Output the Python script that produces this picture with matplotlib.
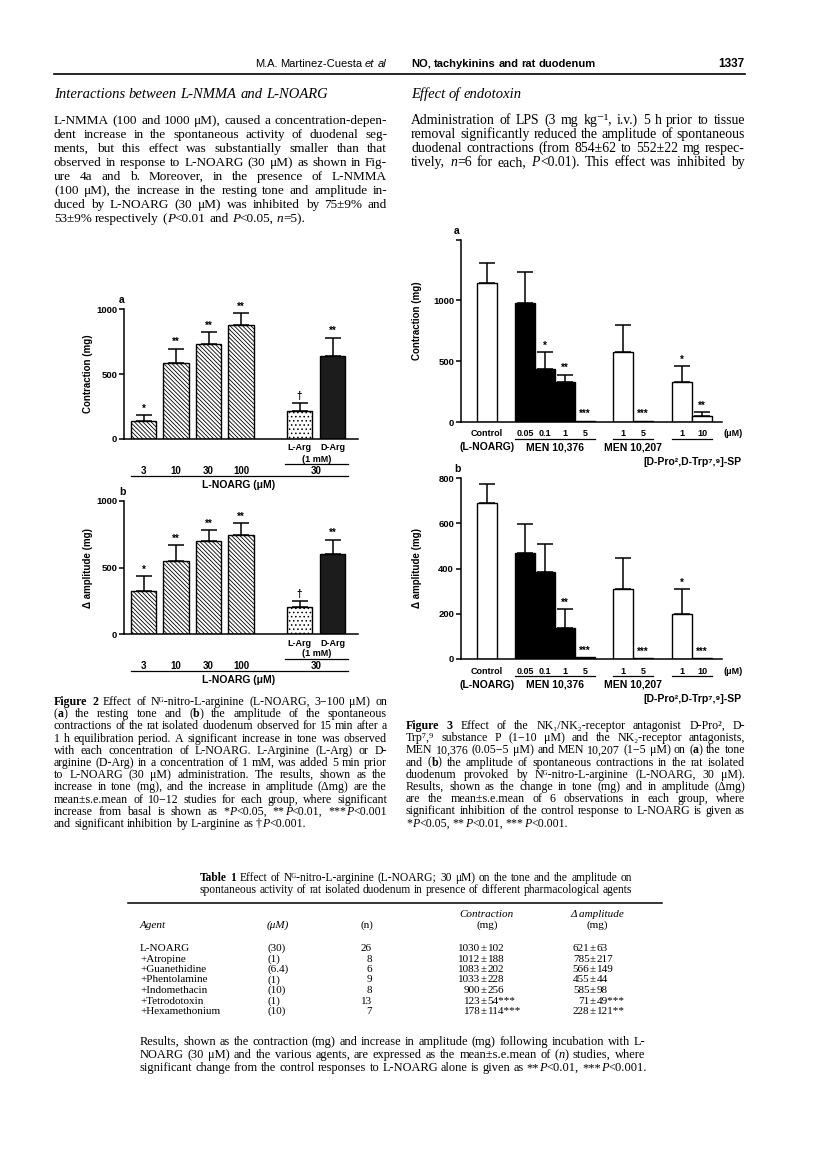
import matplotlib
matplotlib.use('Agg')
import matplotlib.pyplot as plt
import matplotlib.transforms as mtrans
import numpy as np

# ---------------- data ----------------
f2_groups = ['3', '10', '30', '100', 'L-Arg', 'D-Arg']
f2a_mean = [140, 585, 730, 880, 215, 635]
f2a_sem = [45, 110, 90, 90, 65, 145]
f2b_mean = [325, 550, 700, 745, 205, 600]
f2b_sem = [110, 120, 80, 90, 45, 110]
f2_sig = ['*', '**', '**', '**', '†', '**']

f3_doses = ['Control', '0.05', '0.1', '1', '5', '1', '5', '1', '10']
f3_drug = [0, 1, 1, 1, 1, 2, 2, 3, 3]
f3_drugs = ['(L-NOARG)', 'MEN 10,376', 'MEN 10,207', '[D-Pro²,D-Trp⁷,⁹]-SP']
f3a_mean = [1140, 980, 435, 325, 10, 575, 10, 330, 50]
f3a_sem = [165, 255, 140, 65, 0, 220, 0, 130, 30]
f3a_sig = ['', '', '*', '**', '***', '', '***', '*', '**']
f3b_mean = [690, 470, 385, 135, 8, 310, 5, 200, 5]
f3b_sem = [85, 125, 125, 85, 0, 135, 0, 110, 0]
f3b_sig = ['', '', '', '**', '***', '', '***', '*', '***']

t1_agent = ['L-NOARG', '+Atropine', '+Guanethidine', '+Phentolamine',
            '+Indomethacin', '+Tetrodotoxin', '+Hexamethonium']
t1_conc = ['(30)', '(1)', '(6.4)', '(1)', '(10)', '(1)', '(10)']
t1_n = [26, 8, 6, 9, 8, 13, 7]
t1_con_mean = [1030, 1012, 1083, 1033, 900, 123, 178]
t1_con_sem = [102, 188, 202, 228, 256, 54, 114]
t1_con_sig = ['', '', '', '', '', '***', '***']
t1_amp_mean = [621, 785, 566, 455, 585, 71, 228]
t1_amp_sem = [63, 217, 149, 44, 98, 49, 121]
t1_amp_sig = ['', '', '', '', '', '***', '**']

para_left = [
    "L-NMMA (100 and 1000 μM), caused a concentration-depen-",
    "dent increase in the spontaneous activity of duodenal seg-",
    "ments, but this effect was substantially smaller than that",
    "observed in response to L-NOARG (30 μM) as shown in Fig-",
    "ure 4a and b. Moreover, in the presence of L-NMMA",
    "(100 μM), the increase in the resting tone and amplitude in-",
    "duced by L-NOARG (30 μM) was inhibited by 75±9% and",
    "53±9% respectively (|¤P|<0.01 and ¤P|<0.05, ¤n|=5).",
]
para_right = [
    "Administration of LPS (3 mg kg⁻¹, i.v.) 5 h prior to tissue",
    "removal significantly reduced the amplitude of spontaneous",
    "duodenal contractions (from 854±62 to 552±22 mg respec-",
    "tively, ¤n|=6 for each, ¤P|<0.01). This effect was inhibited by",
]
cap2 = [
    "§Figure §2 Effect of Nᴳ-nitro-L-arginine (L-NOARG, 3−100 μM) on",
    "(|§a|) the resting tone and (|§b|) the amplitude of the spontaneous",
    "contractions of the rat isolated duodenum observed for 15 min after a",
    "1 h equilibration period. A significant increase in tone was observed",
    "with each concentration of L-NOARG. L-Arginine (L-Arg) or D-",
    "arginine (D-Arg) in a concentration of 1 mM, was added 5 min prior",
    "to L-NOARG (30 μM) administration. The results, shown as the",
    "increase in tone (mg), and the increase in amplitude (Δmg) are the",
    "mean±s.e.mean of 10−12 studies for each group, where significant",
    "increase from basal is shown as *|¤P|<0.05, **|¤P|<0.01, ***|¤P|<0.001",
    "and significant inhibition by L-arginine as †|¤P|<0.001.",
]
cap3 = [
    "§Figure §3 Effect of the NK₁/NK₂-receptor antagonist D-Pro², D-",
    "Trp⁷,⁹ substance P (1−10 μM) and the NK₂-receptor antagonists,",
    "MEN 10,376 (0.05−5 μM) and MEN 10,207 (1−5 μM) on (|§a|) the tone",
    "and (|§b|) the amplitude of spontaneous contractions in the rat isolated",
    "duodenum provoked by Nᴳ-nitro-L-arginine (L-NOARG, 30 μM).",
    "Results, shown as the change in tone (mg) and in amplitude (Δmg)",
    "are the mean±s.e.mean of 6 observations in each group, where",
    "significant inhibition of the control response to L-NOARG is given as",
    "*|¤P|<0.05, **|¤P|<0.01, ***|¤P|<0.001.",
]
t1_title = [
    "§Table §1 Effect of Nᴳ-nitro-L-arginine (L-NOARG; 30 μM) on the tone and the amplitude on",
    "spontaneous activity of rat isolated duodenum in presence of different pharmacological agents",
]
t1_note = [
    "Results, shown as the contraction (mg) and increase in amplitude (mg) following incubation with L-",
    "NOARG (30 μM) and the various agents, are expressed as the mean±s.e.mean of (|¤n|) studies, where",
    "significant change from the control responses to L-NOARG alone is given as **|¤P|<0.01, ***|¤P|<0.001.",
]

# ---------------- page ----------------
W, H = 816, 1157
SERIF = ['Liberation Serif', 'DejaVu Serif']
SANS = ['Liberation Sans', 'DejaVu Sans']
NARROW = ['Liberation Sans Narrow', 'Liberation Sans', 'DejaVu Sans']
plt.rcParams['font.family'] = SANS
plt.rcParams['hatch.linewidth'] = 0.6

fig = plt.figure(figsize=(W / 100, H / 100), dpi=100)
page = fig.add_axes([0, 0, 1, 1])
page.set_xlim(0, W)
page.set_ylim(H, 0)
page.set_autoscale_on(False)
page.axis('off')
renderer = fig.canvas.get_renderer()


def make_words(line, y, size, family):
    placed = []
    for w in line.split(' '):
        segs = []
        for s in w.split('|'):
            weight, style = 'normal', 'normal'
            while s and s[0] in '§¤':
                if s[0] == '§':
                    weight = 'bold'
                else:
                    style = 'italic'
                s = s[1:]
            if not s:
                continue
            t = page.text(0, y, s, fontsize=size, family=family, fontweight=weight,
                          fontstyle=style, ha='left', va='baseline')
            segs.append((t, t.get_window_extent(renderer).width))
        placed.append(segs)
    return placed


def natural_width(line, size, family=SERIF):
    placed = make_words(line, 0, size, family)
    wd = sum(w for segs in placed for _, w in segs)
    for segs in placed:
        for t, _ in segs:
            t.remove()
    return wd + size * 100 / 72 * 0.25 * (len(placed) - 1)


def put_line(x0, x1, y, line, size, family=SERIF, align='justify'):
    placed = make_words(line, y, size, family)
    widths = [sum(w for _, w in segs) for segs in placed]
    space = size * 100 / 72 * 0.25
    total = sum(widths) + space * (len(placed) - 1)
    if align == 'justify' and len(placed) > 1:
        gap = max((x1 - x0 - sum(widths)) / (len(placed) - 1), 1.0)
        x = x0
    else:
        gap = space
        x = {'left': x0, 'right': x1 - total, 'center': (x0 + x1 - total) / 2}[align]
    for segs, wd in zip(placed, widths):
        xx = x
        for t, w in segs:
            t.set_x(xx)
            xx += w
        x += wd + gap


def put_block(lines, x0, x1, y0, step, base=9.0, last='left', shrink=0.985):
    # pick the size that lets the widest justified line just fit the column
    body = lines if last == 'justify' else lines[:-1]
    size = base * min((x1 - x0) / natural_width(ln, base) for ln in body) * shrink
    for i, ln in enumerate(lines):
        put_line(x0, x1, y0 + i * step, ln, size,
                 align='justify' if i < len(lines) - 1 else last)
    return size


# header
put_line(200, 386, 67, "M.A. Martinez-Cuesta ¤et ¤al", 8, family=NARROW, align='right')
put_line(411, 700, 67, "§NO, §tachykinins §and §rat §duodenum", 8, family=NARROW, align='left')
put_line(600, 744, 67, "§1337", 8.5, family=NARROW, align='right')
page.plot([54, 745], [74, 74], color='black', lw=1.2)

put_line(54, 387, 98, "¤Interactions ¤between ¤L-NMMA ¤and ¤L-NOARG", 10.5, align='left')
put_line(411, 745, 98, "¤Effect ¤of ¤endotoxin", 10.5, align='left')
put_block(para_left, 54, 387, 124, 14)
put_block(para_right, 411, 745, 124, 14, last='justify')


def px_axes(x0, x1, ytop, ybot):
    ax = fig.add_axes([x0 / W, 1 - ybot / H, (x1 - x0) / W, (ybot - ytop) / H])
    ax.patch.set_visible(False)
    ax.spines['top'].set_visible(False)
    ax.spines['right'].set_visible(False)
    ax.spines['left'].set_linewidth(1.1)
    ax.spines['bottom'].set_linewidth(1.1)
    ax.set_xticks([])
    ax.tick_params(axis='y', direction='out', length=3.5, width=1.1, labelsize=6.8, pad=1.5)
    return ax


def bars_with_err(ax, pos, mean, sem, sig, width, faces, hatches):
    bars = ax.bar(pos, mean, width=width, color=faces, edgecolor='black', linewidth=1.0, zorder=2)
    for b, h in zip(bars, hatches):
        b.set_hatch(h)
    keep = [i for i, s in enumerate(sem) if s > 0]
    eb = ax.errorbar([pos[i] for i in keep], [mean[i] for i in keep],
                     yerr=[np.zeros(len(keep)), [sem[i] for i in keep]],
                     fmt='none', ecolor='black', elinewidth=1.1, capsize=5.5, capthick=1.1, zorder=3)
    for a in eb.lines[1] + eb.lines[2]:
        a.set_clip_on(False)
    off = mtrans.offset_copy(ax.transData, fig=fig, x=0, y=1.5, units='dots')
    for p, m, s, g in zip(pos, mean, sem, sig):
        if g:
            ax.text(p, m + s, g, transform=off, ha='center', va='bottom',
                    fontsize=7, fontweight='bold', clip_on=False)


# ---------------- Figure 2 ----------------
f2_pos = np.array([0, 1, 2, 3, 4.8, 5.83])
f2_face = ['white'] * 5 + ['#1c1c1c']
f2_hatch = ['\\' * 8] * 4 + ['....', '']
for mean, sem, top, base, letter, ylab in [
        (f2a_mean, f2a_sem, 309, 439, 'a', 'Contraction (mg)'),
        (f2b_mean, f2b_sem, 501, 634, 'b', 'Δ amplitude (mg)')]:
    ax = px_axes(124, 358, top, base)
    ax.set_xlim(-0.6, 6.6)
    ax.set_ylim(0, 1000)
    ax.set_yticks([0, 500, 1000], labels=['0', '500', '1000'], fontweight='bold')
    bars_with_err(ax, f2_pos, mean, sem, f2_sig, 0.77, f2_face, f2_hatch)
    page.text(122, top - 9, letter, fontsize=7.5, fontweight='bold', ha='center', va='center')
    page.text(88, (top + base) / 2, ylab, rotation=90, fontsize=7, fontweight='bold',
              ha='center', va='center')
    bt = mtrans.blended_transform_factory(ax.transData, page.transData)
    for p, g in zip(f2_pos[:4], f2_groups[:4]):
        ax.text(p, base + 32, g, transform=bt, ha='center', va='center', fontsize=7, fontweight='bold')
    for p, g in zip(f2_pos[4:], f2_groups[4:]):
        ax.text(p, base + 9, g, transform=bt, ha='center', va='center', fontsize=6.5, fontweight='bold')
    mid = f2_pos[4:].mean()
    ax.text(mid, base + 20, '(1 mM)', transform=bt, ha='center', va='center', fontsize=6.5, fontweight='bold')
    ax.plot([f2_pos[4] - 0.45, f2_pos[5] + 0.45], [base + 24.5] * 2, transform=bt,
            color='black', lw=0.9, clip_on=False)
    ax.text(mid, base + 32, '30', transform=bt, ha='center', va='center', fontsize=7, fontweight='bold')
    x_lo, x_hi = f2_pos[0] - 0.4, f2_pos[-1] + 0.45
    ax.plot([x_lo, x_hi], [base + 37] * 2, transform=bt, color='black', lw=0.9, clip_on=False)
    ax.text((x_lo + x_hi) / 2, base + 46, 'L-NOARG (μM)', transform=bt, ha='center', va='center',
            fontsize=7.5, fontweight='bold')

put_block(cap2, 54, 387, 705, 12.2)

# ---------------- Figure 3 ----------------
f3_pos = np.array([0, 1.9, 2.9, 3.9, 4.9, 6.8, 7.8, 9.75, 10.75])
f3_face = ['white'] + ['black'] * 4 + ['white'] * 4
for mean, sem, sig, top, base, ymax, ticks, tlabels, letter, ylab, yl_y in [
        (f3a_mean, f3a_sem, f3a_sig, 239.5, 422, 1500, [0, 500, 1000, 1500],
         ['0', '500', '1000', ''], 'a', 'Contraction (mg)', 321),
        (f3b_mean, f3b_sem, f3b_sig, 478, 659, 800, [0, 200, 400, 600, 800],
         ['0', '200', '400', '600', '800'], 'b', 'Δ amplitude (mg)', 568)]:
    ax = px_axes(461, 722, top, base)
    ax.set_xlim(-1.3, 11.75)
    ax.set_ylim(0, ymax)
    ax.set_yticks(ticks, labels=tlabels, fontweight='bold')
    bars_with_err(ax, f3_pos, mean, sem, sig, 1.0, f3_face, [''] * 9)
    page.text(457, top - 9, letter, fontsize=7.5, fontweight='bold', ha='center', va='center')
    page.text(417, yl_y, ylab, rotation=90, fontsize=7, fontweight='bold', ha='center', va='center')
    bt = mtrans.blended_transform_factory(ax.transData, page.transData)
    for p, d in zip(f3_pos, f3_doses):
        ax.text(p, base + 12, d, transform=bt, ha='center', va='center', fontsize=6.5, fontweight='bold')
    for k in (1, 2, 3):
        ps = [p for p, g in zip(f3_pos, f3_drug) if g == k]
        ax.plot([min(ps) - 0.5, max(ps) + 0.5], [base + 16.5] * 2, transform=bt,
                color='black', lw=0.9, clip_on=False)
    ax.text(f3_pos[-1] + 1.55, base + 12, '(μM)', transform=bt, ha='center', va='center',
            fontsize=6.5, fontweight='bold')
    for k in (0, 1, 2):
        ps = [p for p, g in zip(f3_pos, f3_drug) if g == k]
        ax.text(np.mean(ps), base + 25.5, f3_drugs[k], transform=bt, ha='center', va='center',
                fontsize=7.5, fontweight='bold')
    ax.text(f3_pos[-1] + 2.0, base + 40, f3_drugs[3], transform=bt, ha='right', va='center',
            fontsize=7.5, fontweight='bold')

put_block(cap3, 406, 745, 729, 12.2)

# ---------------- Table 1 ----------------
put_block(t1_title, 200, 632, 881, 12)
page.plot([128, 662], [903, 903], color='black', lw=1.1)

TS = 8
page.text(140, 928, 'Agent', family=SERIF, fontstyle='italic', fontsize=TS, va='baseline')
page.text(267, 928, '(μM)', family=SERIF, fontstyle='italic', fontsize=TS, va='baseline')
page.text(367, 928, '(n)', family=SERIF, fontsize=TS, va='baseline', ha='center')
for xc, head in [(487, 'Contraction'), (597, 'Δ amplitude')]:
    page.text(xc, 917, head, family=SERIF, fontstyle='italic', fontsize=TS, va='baseline', ha='center')
    page.text(xc, 928, '(mg)', family=SERIF, fontsize=TS, va='baseline', ha='center')

for i in range(len(t1_agent)):
    y = 951 + 10.5 * i
    page.text(140, y, t1_agent[i], family=SERIF, fontsize=TS, va='baseline')
    page.text(267, y, t1_conc[i], family=SERIF, fontsize=TS, va='baseline')
    page.text(372, y, str(t1_n[i]), family=SERIF, fontsize=TS, va='baseline', ha='right')
    for xc, m, s, g in [(484, t1_con_mean[i], t1_con_sem[i], t1_con_sig[i]),
                        (593, t1_amp_mean[i], t1_amp_sem[i], t1_amp_sig[i])]:
        page.text(xc - 3.5, y, str(m), family=SERIF, fontsize=TS, va='baseline', ha='right')
        page.text(xc, y, '±', family=SERIF, fontsize=TS, va='baseline', ha='center')
        page.text(xc + 3.5, y, f'{s}{g}', family=SERIF, fontsize=TS, va='baseline', ha='left')

put_block(t1_note, 140, 645, 1045, 13)

fig.savefig('out.png', dpi=100)
